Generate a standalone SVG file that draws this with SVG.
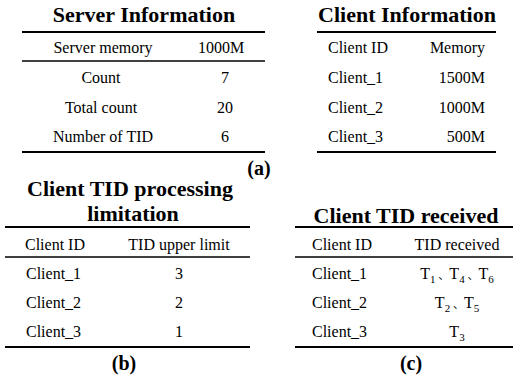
<svg xmlns="http://www.w3.org/2000/svg" width="514" height="378" viewBox="0 0 514 378">
<style>
  text { font-family: "Liberation Serif", "Times New Roman", serif; fill: #000; }
  .title { font-size: 22px; font-weight: bold; text-anchor: middle; }
  .cell { font-size: 16px; }
  .mid { text-anchor: middle; }
  .end { text-anchor: end; }
  .cap { font-size: 20px; font-weight: bold; text-anchor: middle; }
  .sub { font-size: 11px; }
  .sep { font-family: "Liberation Serif", "Noto Sans CJK SC", serif; font-size: 11px; }
  .thick { stroke: #000; stroke-width: 2.2; }
  .thin { stroke: #000; stroke-width: 1.6; }
</style>
<rect width="514" height="378" fill="#fff"/>

<!-- (a) left: server information -->
<g id="server-info">
  <text class="title" x="144" y="22">Server Information</text>
  <line class="thick" x1="22" y1="32" x2="265" y2="32"/>
  <text class="cell mid" x="103" y="53">Server memory</text>
  <text class="cell mid" x="221" y="53">1000M</text>
  <line class="thin" x1="22" y1="61" x2="265" y2="61"/>
  <text class="cell mid" x="101" y="83">Count</text>
  <text class="cell mid" x="225" y="83">7</text>
  <text class="cell mid" x="101" y="113">Total count</text>
  <text class="cell mid" x="225" y="113">20</text>
  <text class="cell mid" x="103" y="142">Number of TID</text>
  <text class="cell mid" x="225" y="142">6</text>
  <line class="thick" x1="22" y1="152" x2="265" y2="152"/>
</g>

<!-- (a) right: client information -->
<g id="client-info">
  <text class="title" x="407" y="22">Client Information</text>
  <line class="thick" x1="317" y1="32" x2="496" y2="32"/>
  <text class="cell" x="328" y="53">Client ID</text>
  <text class="cell end" x="485" y="53">Memory</text>
  <text class="cell" x="328" y="83">Client_1</text>
  <text class="cell end" x="485" y="83">1500M</text>
  <text class="cell" x="328" y="113">Client_2</text>
  <text class="cell end" x="485" y="113">1000M</text>
  <text class="cell" x="328" y="142">Client_3</text>
  <text class="cell end" x="485" y="142">500M</text>
  <line class="thick" x1="317" y1="152" x2="496" y2="152"/>
</g>

<g id="label-a">
  <text class="cap" x="259" y="175">(a)</text>
</g>

<!-- (b) TID processing limit -->
<g id="tid-limit">
  <text class="title" x="130" y="196">Client TID processing</text>
  <text class="title" x="133" y="221">limitation</text>
  <line class="thick" x1="5" y1="227" x2="250" y2="227"/>
  <text class="cell" x="25" y="250">Client ID</text>
  <text class="cell mid" x="179" y="250">TID upper limit</text>
  <line class="thin" x1="5" y1="257" x2="250" y2="257"/>
  <text class="cell" x="26" y="279">Client_1</text>
  <text class="cell mid" x="179" y="279">3</text>
  <text class="cell" x="26" y="308">Client_2</text>
  <text class="cell mid" x="179" y="308">2</text>
  <text class="cell" x="26" y="337">Client_3</text>
  <text class="cell mid" x="179" y="337">1</text>
  <line class="thick" x1="5" y1="347" x2="250" y2="347"/>
  <text class="cap" x="124" y="370">(b)</text>
</g>

<!-- (c) TIDs received -->
<g id="tid-received">
  <text class="title" x="406" y="223">Client TID received</text>
  <line class="thick" x1="295" y1="227" x2="513" y2="227"/>
  <text class="cell" x="312" y="250">Client ID</text>
  <text class="cell mid" x="457" y="250">TID received</text>
  <line class="thin" x1="295" y1="257" x2="513" y2="257"/>
  <text class="cell" x="312" y="279">Client_1</text>
  <text class="cell mid" x="457" y="279">T<tspan class="sub" dy="4">1</tspan><tspan class="sep" dy="-4"> 、</tspan>T<tspan class="sub" dy="4">4</tspan><tspan class="sep" dy="-4"> 、</tspan>T<tspan class="sub" dy="4">6</tspan></text>
  <text class="cell" x="312" y="308">Client_2</text>
  <text class="cell mid" x="457" y="308">T<tspan class="sub" dy="4">2</tspan><tspan class="sep" dy="-4"> 、</tspan>T<tspan class="sub" dy="4">5</tspan></text>
  <text class="cell" x="312" y="337">Client_3</text>
  <text class="cell mid" x="457" y="337">T<tspan class="sub" dy="4">3</tspan></text>
  <line class="thick" x1="295" y1="347" x2="513" y2="347"/>
  <text class="cap" x="411" y="370">(c)</text>
</g>
</svg>
